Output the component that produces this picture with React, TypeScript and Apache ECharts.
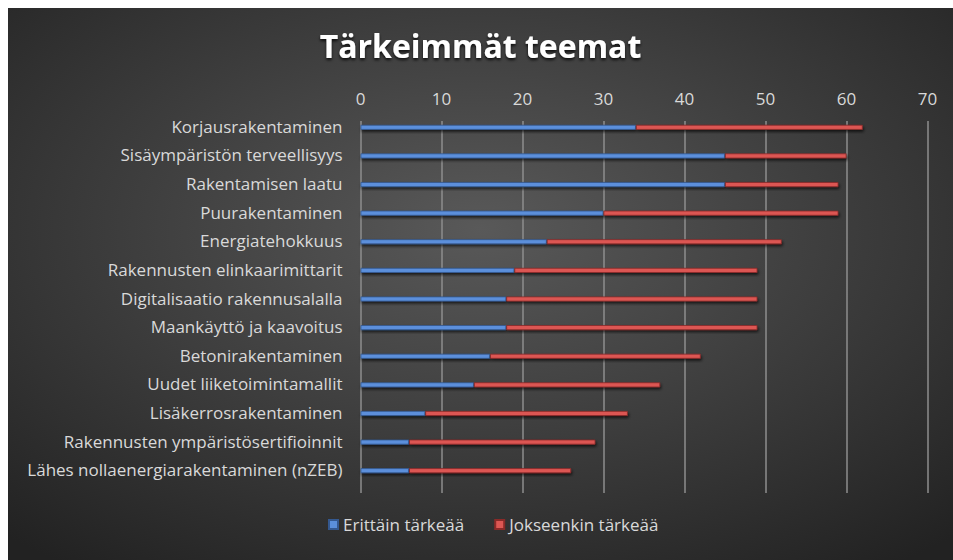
import React, { useEffect, useRef } from "react";
import * as echarts from "echarts";

const categories = [
  "Korjausrakentaminen",
  "Sisäympäristön terveellisyys",
  "Rakentamisen laatu",
  "Puurakentaminen",
  "Energiatehokkuus",
  "Rakennusten elinkaarimittarit",
  "Digitalisaatio rakennusalalla",
  "Maankäyttö ja kaavoitus",
  "Betonirakentaminen",
  "Uudet liiketoimintamallit",
  "Lisäkerrosrakentaminen",
  "Rakennusten ympäristösertifioinnit",
  "Lähes nollaenergiarakentaminen (nZEB)",
];
const erittainTarkeaa = [34, 45, 45, 30, 23, 19, 18, 18, 16, 14, 8, 6, 6];
const jokseenkinTarkeaa = [28, 15, 14, 29, 29, 30, 31, 31, 26, 23, 25, 23, 20];
const seriesNames = ["Erittäin tärkeää", "Jokseenkin tärkeää"];
const titleText = "Tärkeimmät teemat";

const FONT = "'Open Sans', sans-serif";

export default function App() {
  const ref = useRef<HTMLDivElement>(null);
  useEffect(() => {
    if (!ref.current) return;
    const chart = echarts.init(ref.current, undefined, { renderer: "svg" });
    const barShadow = {
      shadowBlur: 3,
      shadowColor: "rgba(0,0,0,0.7)",
      shadowOffsetX: 1,
      shadowOffsetY: 2,
    };
    chart.setOption({
      animation: false,
      backgroundColor: {
        type: "radial",
        x: 0.5,
        y: 0.4,
        r: 0.75,
        colorStops: [
          { offset: 0, color: "#595959" },
          { offset: 1, color: "#222222" },
        ],
      },
      title: {
        text: titleText,
        left: "center",
        top: 16,
        textStyle: {
          color: "#ffffff",
          fontSize: 32,
          fontWeight: "bold",
          fontFamily: FONT,
          textShadowColor: "rgba(0,0,0,0.8)",
          textShadowBlur: 3,
          textShadowOffsetY: 2,
        },
      },
      legend: {
        data: seriesNames,
        top: 503,
        left: 315,
        itemWidth: 9,
        itemHeight: 9,
        itemGap: 30,
        icon: "rect",
        textStyle: { color: "#d9d9d9", fontSize: 17, fontFamily: FONT },
      },
      grid: { left: 352.5, right: 25.5, top: 113, bottom: 67 },
      xAxis: {
        type: "value",
        position: "top",
        min: 0,
        max: 70,
        interval: 10,
        axisLine: { show: false },
        axisTick: { show: false },
        axisLabel: {
          color: "#d9d9d9",
          fontSize: 17,
          fontFamily: FONT,
          margin: 14,
        },
        splitLine: { lineStyle: { color: "#8e8e8e", width: 1.5 } },
      },
      yAxis: {
        type: "category",
        data: categories,
        inverse: true,
        axisLine: { show: false },
        axisTick: { show: false },
        axisLabel: {
          color: "#d9d9d9",
          fontSize: 17,
          fontFamily: FONT,
          margin: 18,
          verticalAlign: "bottom",
          lineHeight: 18,
        },
      },
      series: [
        {
          name: seriesNames[0],
          type: "bar",
          stack: "a",
          barWidth: 5,
          barGap: "220%",
          data: erittainTarkeaa,
          itemStyle: {
            color: "#5b8fdb",
            borderColor: "#34588f",
            borderWidth: 0.8,
            ...barShadow,
          },
        },
        {
          name: seriesNames[1],
          type: "bar",
          stack: "a",
          barWidth: 5,
          data: jokseenkinTarkeaa,
          itemStyle: {
            color: "#dc5753",
            borderColor: "#8a2a28",
            borderWidth: 0.8,
            ...barShadow,
          },
        },
        {
          name: "spacer",
          type: "bar",
          stack: "b",
          barWidth: 5,
          barGap: "220%",
          data: [],
        },
      ],
    });
    return () => chart.dispose();
  }, []);
  return (
    <div
      ref={ref}
      style={{ position: "absolute", left: 8, top: 8, width: 945, height: 552 }}
    />
  );
}
